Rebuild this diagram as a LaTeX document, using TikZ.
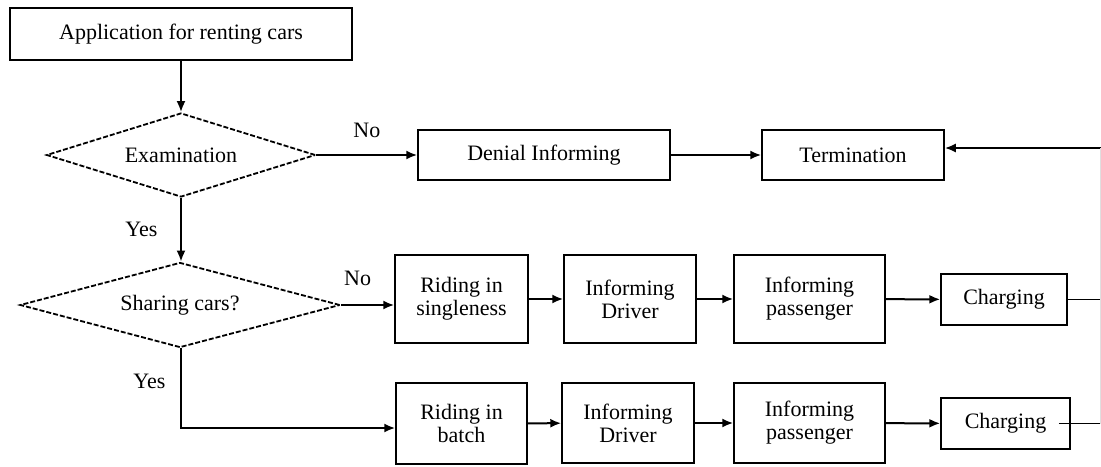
\documentclass[tikz,border=0pt]{standalone}
\usepackage{fontspec}
\setmainfont{Liberation Serif}
\usetikzlibrary{arrows.meta, shapes.geometric, calc}

\tikzset{
  box/.style={draw, line width=0.75pt, align=center, inner sep=2pt},
  check/.style={diamond, draw, dash pattern=on 2.5pt off 1pt, line width=0.9pt, inner sep=0pt},
  flow/.style={->, line width=1pt},
}

\begin{document}
\begin{tikzpicture}[x=0.5pt, y=-0.5pt, >={Latex[length=5.5pt,width=4.5pt]}, font=\fontsize{11}{11.5}\selectfont]
    \useasboundingbox (0,0) rectangle (1101,466);

    % request and check
    \node[box, minimum width=171pt, minimum height=26pt] (apply) at (181,34) {Application for renting cars};
    \node[check, aspect=3.2, minimum width=134.5pt, minimum height=42pt] (exam) at (181,155) {Examination};
    \node[box, minimum width=126pt, minimum height=25pt] (deny) at (544,155) {Denial Informing};
    \node[box, minimum width=91pt, minimum height=25pt] (term) at (853,155) {Termination};
    \node[check, aspect=3.76, minimum width=160pt, minimum height=42.5pt] (share) at (180,305) {Sharing cars?};

    % single ride
    \node[box, minimum width=66.5pt, minimum height=44pt] (single) at (461.5,299) {Riding in\\singleness};
    \node[box, minimum width=66pt, minimum height=44pt] (driverA) at (630,299) {Informing\\Driver};
    \node[box, minimum width=75.5pt, minimum height=44pt] (passA) at (809.5,299) {Informing\\passenger};
    \node[box, minimum width=63pt, minimum height=25.5pt] (chargeA) at (1004,299.5) {Charging};

    % batch ride
    \node[box, minimum width=65.5pt, minimum height=40.5pt] (batch) at (461.5,423.5) {Riding in\\batch};
    \node[box, minimum width=66pt, minimum height=40pt] (driverB) at (628,423) {Informing\\Driver};
    \node[box, minimum width=75.5pt, minimum height=40pt] (passB) at (809.5,423) {Informing\\passenger};
    \node[box, minimum width=64.5pt, minimum height=25.5pt] (chargeB) at (1005.5,423.5) {Charging};

    \coordinate (back) at (1101,148);
    \coordinate (endA) at (1101,299.5);
    \coordinate (endB) at (1101,423.5);
    \coordinate (turn) at (181,428);

    \draw[flow] (apply) -- (exam);
    \draw[flow] (exam) -- (deny) node[midway, above=5pt] {No};
    \draw[flow] (deny) -- (term);
    \draw[flow] (back) -- (back -| term.east);
    \draw[flow] (exam) -- (share.north -| exam) node[midway, left=8pt] {Yes};

    \draw[flow] (share.east) -- (share.east -| single.west) node[midway, above=6pt, xshift=-5pt] {No};
    \draw[flow] (single) -- (driverA);
    \draw[flow] (driverA) -- (passA);
    \draw[flow] (passA) -- (chargeA);
    \draw[line width=0.75pt] (chargeA) -- (endA);

    \draw[flow] (share.south -| turn) -- (turn) node[pos=0.42, left=4pt] {Yes} -- (turn -| batch.west);
    \draw[flow] (batch) -- (driverB);
    \draw[flow] (driverB) -- (passB);
    \draw[flow] (passB) -- (chargeB);
    \draw[line width=0.75pt] ([xshift=-6pt]chargeB.east) -- (endB);

    % return line along the edge
    \draw[line width=0.75pt, gray!25] (back) -- (endB);
\end{tikzpicture}
\end{document}
